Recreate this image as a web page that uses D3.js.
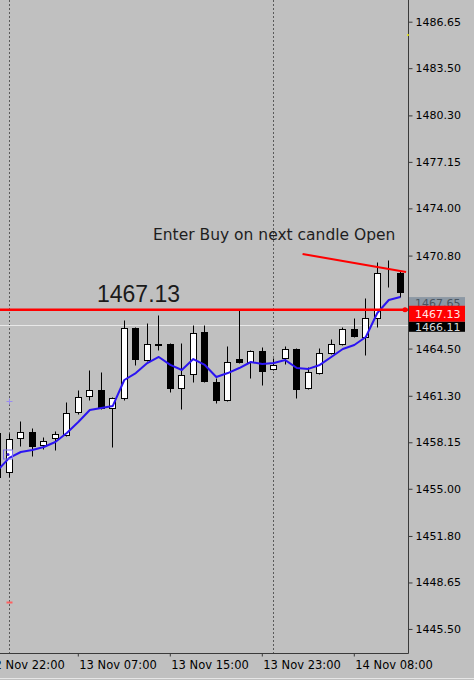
<!DOCTYPE html>
<html>
<head>
<meta charset="utf-8">
<script src="https://cdn.jsdelivr.net/npm/d3@7"></script>
<style>
  body { margin: 0; background: #c0c0c0; }
  svg { display: block; }
  .tick text { font-family: "DejaVu Sans", sans-serif; font-size: 11px; fill: #000; }
  .xaxis .tick text { font-size: 11.5px; }
</style>
</head>
<body>
<svg id="chart" width="474" height="680"></svg>
<script>
// hourly bars, oldest first (first bar is off screen, only its time label shows)
let times = [
  "12 Nov 22:00", "12 Nov 23:00",
  "13 Nov 01:00", "13 Nov 02:00", "13 Nov 03:00", "13 Nov 04:00", "13 Nov 05:00", "13 Nov 06:00",
  "13 Nov 07:00", "13 Nov 08:00", "13 Nov 09:00", "13 Nov 10:00", "13 Nov 11:00", "13 Nov 12:00",
  "13 Nov 13:00", "13 Nov 14:00", "13 Nov 15:00", "13 Nov 16:00", "13 Nov 17:00", "13 Nov 18:00",
  "13 Nov 19:00", "13 Nov 20:00", "13 Nov 21:00", "13 Nov 22:00", "13 Nov 23:00",
  "14 Nov 01:00", "14 Nov 02:00", "14 Nov 03:00", "14 Nov 04:00", "14 Nov 05:00", "14 Nov 06:00",
  "14 Nov 07:00", "14 Nov 08:00", "14 Nov 09:00", "14 Nov 10:00", "14 Nov 11:00", "14 Nov 12:00"
];
let opens = [null, 1458.78, 1456.14, 1458.44, 1458.85, 1457.97, 1458.44, 1458.64, 1460.20, 1461.29, 1461.69,
  1460.47, 1461.15, 1465.89, 1463.72, 1464.74, 1464.81, 1461.83, 1462.78, 1465.62, 1462.23, 1461.01, 1463.79,
  1463.59, 1464.33, 1463.12, 1463.86, 1464.47, 1461.83, 1462.84, 1464.20, 1464.81, 1465.83, 1465.28, 1466.57,
  1469.69, 1469.62];
let highs = [null, 1458.91, 1458.78, 1459.59, 1459.12, 1458.51, 1458.91, 1460.88, 1461.69, 1463.05, 1462.91,
  1461.22, 1466.43, 1465.96, 1466.23, 1466.77, 1464.88, 1464.88, 1466.10, 1466.10, 1462.51, 1464.67, 1467.18,
  1464.40, 1464.61, 1463.86, 1464.67, 1464.54, 1463.25, 1464.54, 1465.15, 1465.96, 1466.57, 1467.93, 1470.36,
  1470.50, 1469.75];
let lows = [null, 1455.59, 1455.80, 1457.90, 1457.22, 1457.70, 1457.63, 1458.58, 1460.07, 1461.01, 1460.41,
  1457.83, 1461.01, 1463.39, 1463.66, 1464.40, 1461.56, 1460.41, 1462.23, 1462.23, 1460.81, 1460.95, 1463.52,
  1462.51, 1462.03, 1463.05, 1463.45, 1461.15, 1461.76, 1462.78, 1464.13, 1464.74, 1465.28, 1464.06, 1465.96,
  1468.67, 1467.99];
let closes = [null, 1455.80, 1458.37, 1458.85, 1457.90, 1458.24, 1458.71, 1460.13, 1461.22, 1461.69, 1460.47,
  1461.15, 1465.89, 1463.79, 1464.81, 1464.81, 1461.83, 1462.71, 1465.55, 1462.30, 1461.01, 1463.59, 1463.59,
  1464.33, 1462.98, 1463.39, 1464.47, 1461.76, 1462.91, 1464.20, 1464.81, 1465.83, 1465.35, 1466.57, 1469.62,
  1469.69, 1468.33];
let maValues = [null, 1456.27, 1457.09, 1457.49, 1457.63, 1457.83, 1458.17, 1458.78, 1459.52, 1460.34, 1460.47,
  1460.61, 1462.37, 1462.84, 1463.52, 1463.93, 1463.39, 1463.05, 1463.79, 1463.39, 1462.57, 1462.84, 1463.18,
  1463.59, 1463.45, 1463.52, 1463.72, 1463.18, 1463.12, 1463.39, 1463.93, 1464.47, 1464.74, 1465.28, 1466.91,
  1467.79, 1467.99];

let yTicks = [1445.50, 1448.65, 1451.80, 1455.00, 1458.15, 1461.30, 1464.50, 1470.80, 1474.00, 1477.15,
  1480.30, 1483.50, 1486.65];
let xTickLabels = ["12 Nov 22:00", "13 Nov 07:00", "13 Nov 15:00", "13 Nov 23:00", "14 Nov 08:00"];
let separators = ["13 Nov 01:00", "14 Nov 01:00"];

let hiddenTick = 1467.65;
let entryLevel = 1467.13;
let bidLevel = 1466.11;
let trendStart = { t: "14 Nov 04:00", p: 1470.91 };
let trendEnd = { t: "14 Nov 12:00", p: 1469.69 };
let noteText = "Enter Buy on next candle Open";

let plotW = 408;
let plotH = 653;

let svg = d3.select("#chart");

let x = d3.scaleBand()
  .domain(times)
  .range([-19.45, -19.45 + times.length * 11.5])
  .padding(0);
let y = d3.scaleLinear()
  .domain([1443.87, 1488.12])
  .range([plotH, 0]);

let cx = (t) => Math.floor(x(t) + x.bandwidth() / 2) + 0.5;
let py = (v) => Math.round(y(v)) + 0.5;

svg.append("defs").append("clipPath").attr("id", "plotClip")
  .append("rect").attr("x", 0).attr("y", 0).attr("width", plotW).attr("height", plotH);

let plot = svg.append("g").attr("clip-path", "url(#plotClip)");

// day separators
plot.selectAll(".sep")
  .data(separators)
  .enter()
  .append("line")
  .attr("class", "sep")
  .attr("x1", (d) => cx(d)).attr("x2", (d) => cx(d))
  .attr("y1", 0).attr("y2", plotH)
  .attr("stroke", "#5a5a5a")
  .attr("stroke-dasharray", "2,2");

// bid line
plot.append("line")
  .attr("x1", 0).attr("x2", plotW)
  .attr("y1", py(bidLevel)).attr("y2", py(bidLevel))
  .attr("stroke", "#e8e8e8");

let bars = times.map((t, i) => ({
  t: t, o: opens[i], h: highs[i], l: lows[i], c: closes[i]
})).filter((d) => d.o != null);

// wicks
plot.selectAll(".wick")
  .data(bars)
  .enter()
  .append("line")
  .attr("class", "wick")
  .attr("x1", (d) => cx(d.t)).attr("x2", (d) => cx(d.t))
  .attr("y1", (d) => py(d.h)).attr("y2", (d) => py(d.l))
  .attr("stroke", "#000");

// bodies
plot.selectAll(".body")
  .data(bars)
  .enter()
  .append("rect")
  .attr("class", "body")
  .attr("x", (d) => cx(d.t) - 3)
  .attr("y", (d) => py(Math.max(d.o, d.c)))
  .attr("width", 6)
  .attr("height", (d) => Math.max(0, py(Math.min(d.o, d.c)) - py(Math.max(d.o, d.c))))
  .attr("fill", (d) => d.c < d.o ? "#000" : "#fff")
  .attr("stroke", "#000");

// moving average
let maLine = d3.line()
  .defined((d) => d.v != null)
  .x((d) => x(d.t) + x.bandwidth() / 2)
  .y((d) => y(d.v));
plot.append("path")
  .datum(times.map((t, i) => ({ t: t, v: maValues[i] })))
  .attr("d", maLine)
  .attr("fill", "none")
  .attr("stroke", "#2b14f2")
  .attr("stroke-width", 2)
  .attr("stroke-linejoin", "round");

// little chart objects on the first separator
let k0 = cx("13 Nov 01:00");
plot.append("rect")
  .attr("x", k0 - 6).attr("y", py(1457.36) - 4.5)
  .attr("width", 9).attr("height", 9)
  .attr("fill", "none").attr("stroke", "#7a6cf0");
plot.append("circle")
  .attr("cx", k0 - 1.5).attr("cy", py(1457.36))
  .attr("r", 1.5).attr("fill", "#4020e0");
plot.append("path")
  .attr("d", `M${k0 - 3},${py(1460.95)}h6M${k0},${py(1460.95) - 3}v6`)
  .attr("stroke", "#9a8cf0");
plot.append("line")
  .attr("x1", k0 - 3).attr("x2", k0 + 3)
  .attr("y1", py(1447.33)).attr("y2", py(1447.33))
  .attr("stroke", "#ff6060").attr("stroke-width", 2);

// entry level line
plot.append("line")
  .attr("x1", 0).attr("x2", plotW)
  .attr("y1", y(entryLevel)).attr("y2", y(entryLevel))
  .attr("stroke", "#ff0000")
  .attr("stroke-width", 2.5);
plot.append("circle")
  .attr("cx", plotW - 3).attr("cy", y(entryLevel))
  .attr("r", 2.5).attr("fill", "#ff0000");

// trend line
plot.append("line")
  .attr("x1", x(trendStart.t)).attr("y1", y(trendStart.p))
  .attr("x2", x(trendEnd.t) + x.bandwidth()).attr("y2", y(trendEnd.p))
  .attr("stroke", "#ff0000")
  .attr("stroke-width", 2);

// texts on the chart
svg.append("text")
  .attr("x", 153).attr("y", 239.5)
  .attr("font-family", "DejaVu Sans, sans-serif")
  .attr("font-size", 15.5)
  .attr("fill", "#1e1e1e")
  .text(noteText);
svg.append("text")
  .attr("x", 97).attr("y", 302)
  .attr("font-family", "Liberation Sans, Arial, sans-serif")
  .attr("font-size", 23)
  .attr("fill", "#1a1a1a")
  .text(entryLevel.toFixed(2));

// frame
svg.append("line")
  .attr("x1", plotW + 0.5).attr("x2", plotW + 0.5)
  .attr("y1", 0).attr("y2", plotH + 0.5)
  .attr("stroke", "#3a3a3a");
svg.append("line")
  .attr("x1", 0).attr("x2", plotW + 0.5)
  .attr("y1", plotH + 0.5).attr("y2", plotH + 0.5)
  .attr("stroke", "#3a3a3a");
svg.append("line")
  .attr("x1", 0).attr("x2", 474)
  .attr("y1", 678.5).attr("y2", 678.5)
  .attr("stroke", "#e6e6e6");

// price axis
let yAxis = d3.axisRight(y)
  .tickValues(yTicks)
  .tickSize(4)
  .tickPadding(3)
  .tickFormat((d) => d.toFixed(2));
let yg = svg.append("g")
  .attr("transform", `translate(${plotW + 0.5},0)`)
  .call(yAxis);
yg.select(".domain").remove();
yg.selectAll(".tick line").attr("stroke", "#3a3a3a");

// time axis
let xAxis = d3.axisBottom(x)
  .tickValues(xTickLabels)
  .tickSize(3)
  .tickPadding(4);
let xg = svg.append("g")
  .attr("class", "xaxis")
  .attr("transform", `translate(0,${plotH + 0.5})`)
  .call(xAxis);
xg.select(".domain").remove();
xg.selectAll(".tick line").attr("stroke", "#3a3a3a");
xg.selectAll(".tick text").attr("text-anchor", "start").attr("dx", "1");

// price labels on the axis
let boxes = [
  { v: hiddenTick, top: y(hiddenTick) - 5, h: 12, fill: "#8c98a4", color: "#4a5560" },
  { v: entryLevel, top: y(entryLevel) - 4, h: 16, fill: "#ff0000", color: "#ffe4e4" },
  { v: bidLevel, top: y(bidLevel) - 3, h: 10, fill: "#000000", color: "#d8d8d8" }
];
let bg = svg.selectAll(".pbox")
  .data(boxes)
  .enter()
  .append("g")
  .attr("class", "pbox");
bg.append("rect")
  .attr("x", plotW + 1).attr("y", (d) => d.top)
  .attr("width", 56).attr("height", (d) => d.h)
  .attr("fill", (d) => d.fill);
bg.append("text")
  .attr("x", plotW + 7).attr("y", (d) => d.top + d.h / 2)
  .attr("dy", "0.35em")
  .attr("font-family", "DejaVu Sans, sans-serif")
  .attr("font-size", 11)
  .attr("fill", (d) => d.color)
  .text((d) => d.v.toFixed(2));

// tiny marker on the axis edge
svg.append("circle")
  .attr("cx", plotW).attr("cy", 35).attr("r", 1)
  .attr("fill", "#e8e800");
</script>
</body>
</html>
